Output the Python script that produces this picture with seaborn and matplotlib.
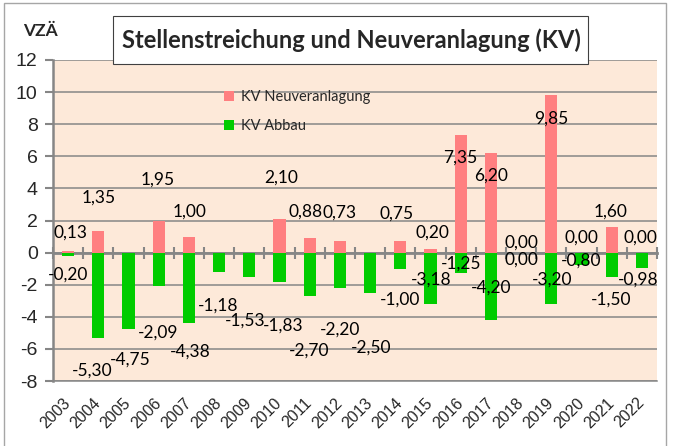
import numpy as np
import pandas as pd
import matplotlib
matplotlib.use('Agg')
import matplotlib.pyplot as plt
import seaborn as sns
from matplotlib.patches import Rectangle

# ---------------- data ----------------
years = [str(y) for y in range(2003, 2023)]
neu = [0.13, 1.35, np.nan, 1.95, 1.00, np.nan, np.nan, 2.10, 0.88, 0.73,
       np.nan, 0.75, 0.20, 7.35, 6.20, 0.00, 9.85, 0.00, 1.60, 0.00]
abbau = [-0.20, -5.30, -4.75, -2.09, -4.38, -1.18, -1.53, -1.83, -2.70, -2.20,
         -2.50, -1.00, -3.18, -1.25, -4.20, 0.00, -3.20, -0.80, -1.50, -0.98]
series = ['KV Neuveranlagung', 'KV Abbau']
y_ticks = list(range(-8, 13, 2))

# data-label offsets (pixels) relative to the bar end, as placed in the original
neu_dx = [2, 0, 0, -1, 1, 0, 0, 2, -4, 0, 0, -4, 2, 0, 0, 0, 0, 0, -1, -1]
neu_dy = [18, 33, 0, 42, 25, 0, 0, 41, 27, 28, 0, 27, 17, -23, -23, 10, -24, 15, 15, 15]
abb_dx = [0, -6, 2, -1, 1, -1, -4, 4, -1, 0, 1, 0, 1, 0, 0, 0, 1, 0, -1, -4]
abb_dy = [-19, -33, -31, -46, -29, -34, -43, -44, -55, -42, -55, -31, 24, 9, 32, -7, 24, 5, -23, -11]

pink = '#FF7F80'
green = '#00CC00'
grid_c = '#868686'
bg = '#FDE9D9'

df = pd.DataFrame({
    'Jahr': years * 2,
    'Wert': neu + abbau,
    'Serie': [series[0]] * len(years) + [series[1]] * len(years),
})

sns.set_style('white')
plt.rcParams['font.family'] = ['Lato', 'DejaVu Sans']

W, H = 682, 446
fig = plt.figure(figsize=(W / 100, H / 100), dpi=100)
ax = fig.add_axes([53 / W, 1 - 381 / H, (657 - 53) / W, (381 - 60) / H])
ax.set_facecolor(bg)

sns.barplot(data=df, x='Jahr', y='Wert', hue='Serie', hue_order=series,
            order=years, palette=[pink, green], dodge=False, width=0.4,
            saturation=1, errorbar=None, linewidth=0, ax=ax, zorder=3)

ax.set_xlim(-0.5, len(years) - 0.5)
ax.set_ylim(-8, 12)
ax.set_yticks(y_ticks)
ax.set_yticklabels([str(t) for t in y_ticks], family=['Liberation Sans'], fontsize=14)
ax.yaxis.grid(True, color=grid_c, linewidth=1.1, zorder=1)
ax.set_axisbelow(True)
ax.set_xlabel('')
ax.set_ylabel('')
ax.set_xticks(range(len(years)))
ax.set_xticklabels(years, rotation=45, ha='right', va='center',
                   rotation_mode='anchor', family=['Liberation Sans'], fontsize=11.5)
ax.tick_params(axis='x', length=0, pad=14)
ax.tick_params(axis='y', length=6, width=1.5, color=grid_c, direction='out', pad=5, left=True)
for s in ['top', 'right']:
    ax.spines[s].set_visible(False)
ax.spines['left'].set_color(grid_c)
ax.spines['left'].set_linewidth(1.8)
ax.spines['bottom'].set_color(grid_c)
ax.spines['bottom'].set_linewidth(1.1)

# zero axis with category separators
sec = ax.secondary_xaxis(8 / 20)
sec.set_xticks(np.arange(-0.5, len(years), 1.0))
sec.set_xticklabels([''] * (len(years) + 1))
sec.tick_params(axis='x', direction='inout', length=9, width=1.5, color=grid_c)
sec.spines['bottom'].set_color(grid_c)
sec.spines['bottom'].set_linewidth(2)

def fmt(v):
    return f'{v:.2f}'.replace('.', ',')

for i, v in enumerate(neu):
    if not np.isnan(v):
        ax.annotate(fmt(v), xy=(i, v), xytext=(neu_dx[i], neu_dy[i]),
                    textcoords='offset pixels', ha='center', va='center',
                    fontsize=12.5, color='black', zorder=5)
for i, v in enumerate(abbau):
    ax.annotate(fmt(v), xy=(i, v), xytext=(abb_dx[i], abb_dy[i]),
                textcoords='offset pixels', ha='center', va='center',
                fontsize=12.5, color='black', zorder=5)

h, l = ax.get_legend_handles_labels()
ax.legend(h, l, loc='upper left', bbox_to_anchor=(218 / W, 1 - 84 / H),
          bbox_transform=fig.transFigure, frameon=False, fontsize=10.5,
          handlelength=0.7, handleheight=0.7, handletextpad=0.45,
          labelspacing=1.05, borderaxespad=0)

# outer border
fig.add_artist(Rectangle((4 / W, -0.01), (666 - 4) / W, 1 - 3 / H + 0.01,
                         transform=fig.transFigure, fill=False,
                         edgecolor='#a6a6a6', linewidth=1))
# title box
fig.add_artist(Rectangle((113 / W, 1 - 64 / H), (588 - 113) / W, (64 - 16) / H,
                         transform=fig.transFigure, facecolor='white',
                         edgecolor='#404040', linewidth=0.8))
fig.text(351 / W, 1 - 40 / H, 'Stellenstreichung und Neuveranlagung (KV)',
         ha='center', va='center', fontsize=17, fontweight='bold')
fig.text(40 / W, 1 - 31 / H, 'VZÄ', ha='center', va='center',
         fontsize=12.5, fontweight='bold')

fig.savefig('out.png', dpi=100)
